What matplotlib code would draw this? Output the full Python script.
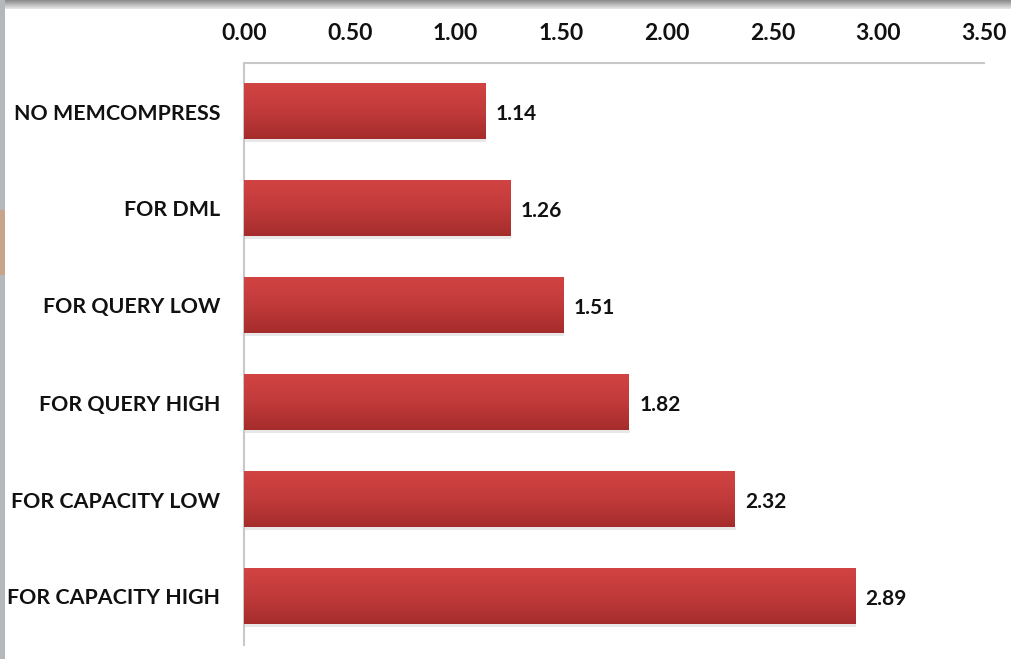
import numpy as np
import matplotlib.pyplot as plt
from matplotlib.patches import Rectangle
from matplotlib.colors import LinearSegmentedColormap

# compression ratio per INMEMORY MEMCOMPRESS level
levels = ["NO MEMCOMPRESS", "FOR DML", "FOR QUERY LOW",
          "FOR QUERY HIGH", "FOR CAPACITY LOW", "FOR CAPACITY HIGH"]
ratios = [1.14, 1.26, 1.51, 1.82, 2.32, 2.89]
ticks = [0.0, 0.5, 1.0, 1.5, 2.0, 2.5, 3.0, 3.5]

plt.rcParams['font.family'] = ['Lato', 'DejaVu Sans']
plt.rcParams['font.weight'] = 'bold'

W, H = 1011, 659
fig = plt.figure(figsize=(W / 100, H / 100), dpi=100)
ax = fig.add_axes([244 / W, 1 - 645 / H, (984 - 244) / W, (645 - 63) / H])

y = np.arange(len(levels))
bars = ax.barh(y, ratios, height=0.57, color='#bb3535', zorder=2)

# vertical red gradient on each bar
red = LinearSegmentedColormap.from_list('red', ['#d24343', '#c13a3a', '#a52c2c'])
grad = np.linspace(0, 1, 64).reshape(-1, 1)
for b in bars:
    x0, y0, w, h = b.get_x(), b.get_y(), b.get_width(), b.get_height()
    # soft shadow below the bar
    ax.add_patch(Rectangle((x0, y0 + h), w + 0.005, 0.025, color='#e8e8e8',
                           zorder=1, lw=0))
    ax.imshow(grad, cmap=red, aspect='auto', extent=(x0, x0 + w, y0 + h, y0),
              zorder=3)

for yi, v in zip(y, ratios):
    ax.text(v + 0.05, yi + 0.03, f"{v:.2f}", va='center', ha='left',
            fontsize=15, fontweight='bold', color='#111111')

ax.set_xlim(0, 3.5)
ax.set_ylim(len(levels) - 0.5, -0.5)
ax.set_xticks(ticks)
ax.set_xticklabels([f"{t:.2f}" for t in ticks])
ax.set_yticks(y)
ax.set_yticklabels(levels)
ax.xaxis.tick_top()
ax.tick_params(axis='x', length=0, pad=14, labelsize=16.5, labelcolor='#111111')
ax.tick_params(axis='y', length=0, pad=17, labelsize=15.4, labelcolor='#111111')
for s in ['bottom', 'right']:
    ax.spines[s].set_visible(False)
for s in ['top', 'left']:
    ax.spines[s].set_color('#c8c8c8')
    ax.spines[s].set_linewidth(1.5)
ax.set_facecolor('white')

# window frame around the chart
fig.add_artist(Rectangle((0, 0), 5 / W, 1, transform=fig.transFigure,
                         color='#b4b8bc', lw=0))
fig.add_artist(Rectangle((0, 1 - 275 / H), 5 / W, 65 / H,
                         transform=fig.transFigure, color='#c8a488', lw=0))

top = np.linspace(0, 1, 16).reshape(-1, 1)
frame = LinearSegmentedColormap.from_list('frame', ['#8c8c8c', '#e6e6e6'])
fax = fig.add_axes([0, 1 - 9 / H, 1, 9 / H])
fax.imshow(top, cmap=frame, aspect='auto')
fax.axis('off')

fig.savefig('out.png', dpi=100, facecolor='white')
